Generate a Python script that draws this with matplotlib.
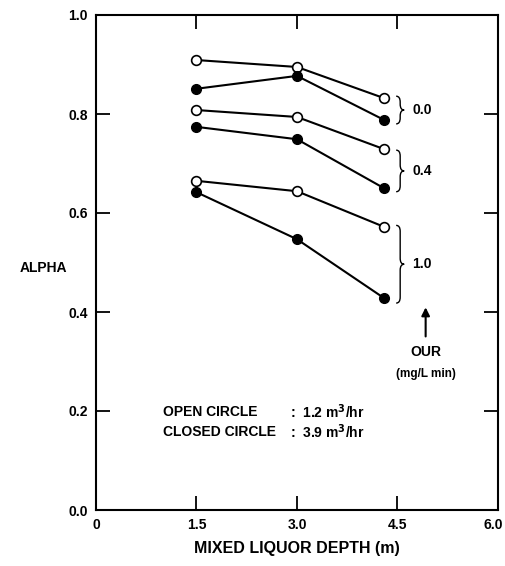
import matplotlib.pyplot as plt
from matplotlib.path import Path
from matplotlib.patches import PathPatch
from matplotlib.transforms import ScaledTranslation

plt.rcParams['font.family'] = ['Liberation Sans', 'DejaVu Sans']
plt.rcParams['font.weight'] = 'bold'
plt.rcParams['axes.labelweight'] = 'bold'

depth = [1.5, 3.0, 4.3]

# OUR 0.0
open_00 = [0.909, 0.895, 0.832]
closed_00 = [0.851, 0.877, 0.788]
# OUR 0.4
open_04 = [0.808, 0.794, 0.729]
closed_04 = [0.774, 0.749, 0.650]
# OUR 1.0
open_10 = [0.665, 0.644, 0.572]
closed_10 = [0.642, 0.547, 0.428]

our_labels = ['0.0', '0.4', '1.0']
brace_spans = [(0.780, 0.836), (0.643, 0.727), (0.418, 0.575)]

fig = plt.figure(figsize=(5.06, 5.66), dpi=100)
ax = fig.add_axes([96 / 506, 56 / 566, 402 / 506, 495 / 566])

for yo, yc in [(open_00, closed_00), (open_04, closed_04), (open_10, closed_10)]:
    ax.plot(depth, yo, '-o', color='black', lw=1.5, ms=7, mfc='white', mec='black', mew=1.2, zorder=3)
    ax.plot(depth, yc, '-o', color='black', lw=1.5, ms=7, mfc='black', mec='black', zorder=3)


def brace(x, y0, y1, w):
    ym = (y0 + y1) / 2
    h = 0.012
    verts = [(x, y1), (x + w * 0.5, y1), (x + w * 0.5, y1 - h),
             (x + w * 0.5, ym + h), (x + w * 0.5, ym), (x + w, ym),
             (x + w * 0.5, ym), (x + w * 0.5, ym - h),
             (x + w * 0.5, y0 + h), (x + w * 0.5, y0), (x, y0)]
    codes = [Path.MOVETO, Path.CURVE3, Path.CURVE3, Path.LINETO,
             Path.CURVE3, Path.CURVE3, Path.CURVE3, Path.CURVE3,
             Path.LINETO, Path.CURVE3, Path.CURVE3]
    ax.add_patch(PathPatch(Path(verts, codes), fc='none', ec='black', lw=1.0))


for lab, (y0, y1) in zip(our_labels, brace_spans):
    brace(4.48, y0, y1, 0.12)
    ax.text(4.72, (y0 + y1) / 2, lab, ha='left', va='center', fontsize=10)

ax.annotate('', xy=(4.92, 0.415), xytext=(4.92, 0.345),
            arrowprops=dict(arrowstyle='-|>', color='black', lw=1.5, mutation_scale=12))
ax.text(4.92, 0.32, 'OUR', ha='center', va='center', fontsize=10)
ax.text(4.92, 0.275, '(mg/L min)', ha='center', va='center', fontsize=8.5)

ax.text(1.0, 0.198, 'OPEN CIRCLE', ha='left', va='center', fontsize=10)
ax.text(1.0, 0.158, 'CLOSED CIRCLE', ha='left', va='center', fontsize=10)
ax.text(2.9, 0.198, ':  1.2 m$^\\mathbf{3}$/hr', ha='left', va='center', fontsize=10)
ax.text(2.9, 0.158, ':  3.9 m$^\\mathbf{3}$/hr', ha='left', va='center', fontsize=10)

ax.set_xlim(0, 6.0)
ax.set_ylim(0, 1.0)
ax.set_xticks([0, 1.5, 3.0, 4.5, 6.0])
ax.set_xticklabels(['0', '1.5', '3.0', '4.5', '6.0'])
ax.set_yticks([0, 0.2, 0.4, 0.6, 0.8, 1.0])
ax.set_yticklabels(['0.0', '0.2', '0.4', '0.6', '0.8', '1.0'])
ax.tick_params(direction='in', length=10, width=1.3, top=True, right=True, labelsize=10, pad=6)
for sp in ax.spines.values():
    sp.set_linewidth(1.5)

last = ax.get_xticklabels()[-1]
last.set_transform(last.get_transform() + ScaledTranslation(-5 / 100, 0, fig.dpi_scale_trans))

fig.text(297 / 506, 1 - 548 / 566, 'MIXED LIQUOR DEPTH (m)', ha='center', va='center',
         fontsize=11.5, fontweight='bold')
fig.text(20 / 506, 1 - 268 / 566, 'ALPHA', ha='left', va='center', fontsize=10, fontweight='bold')

fig.savefig('out.png', dpi=100)
